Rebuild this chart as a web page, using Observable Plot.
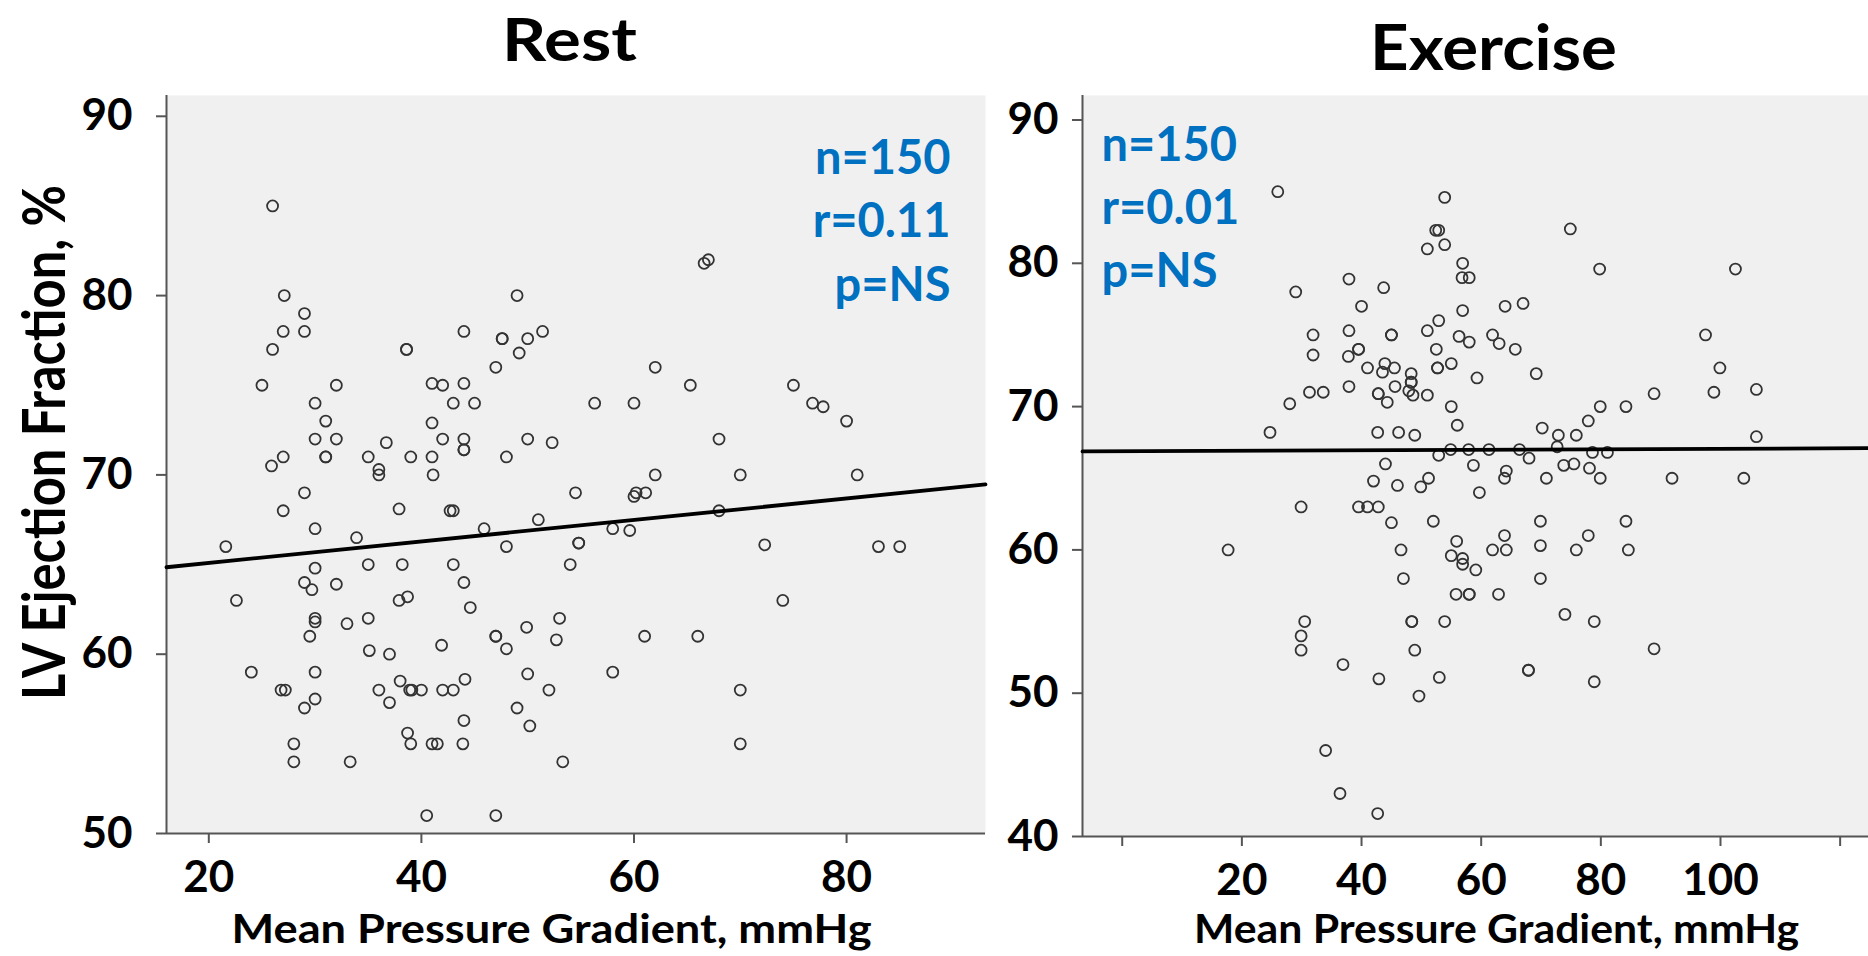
<!DOCTYPE html>
<html><head><meta charset="utf-8">
<script src="https://cdn.jsdelivr.net/npm/d3@7"></script>
<script src="https://cdn.jsdelivr.net/npm/@observablehq/plot@0.6"></script>
<style>
html,body{margin:0;padding:0;background:#fff;}
#wrap{position:relative;width:1868px;height:956px;overflow:hidden;}
#wrap svg{position:absolute;top:0;}
</style></head><body><div id="wrap"></div>
<script>
// ---------- data: Rest panel ----------
const restX = [26,27.1,29,27,29,26,38.6,38.6,44,47.6,47.6,49,50,51.4,49.2,47,25,32,41,42,44,30,43,45,31,41,30,32,36.7,42,44,44,44,50,52.3,27,25.9,31,31,35,36,36,39,41,41.1,48,
29,27,37.9,42.7,43,54.5,30,21.6,33.9,45.9,51,48,54.8,54.8,54,30,35,38.2,43,22.6,29,29.7,32,44,37.9,38.7,44.6,30,30,33,35,29.5,35.1,37,41.9,47,47,48,49.9,53,52.7,24,30,26.8,27.2,30,29,36,37,38,38.9,39.1,40,42,43,44.1,50,52,49,50.2,44,38.7,39,41,41.5,43.9,28,28,33.3,53.3,40.5,47,
66.6,67,62,65.3,75,56.3,60,76.8,77.8,80,68,62,70,81,
60,60.2,61.1,68,58,59.6,72.3,83,85,74,61,66,58,70,70];
const restY = [85,80,79,78,78,77,77,77,78,77.6,77.6,80,77.6,78,76.8,76,75,75,75.1,75,75.1,74,74,74,73,72.9,72,72,71.8,72,72,71.4,71.4,72,71.8,71,70.5,71,71,71,70.3,70,71,71,70,71,
69,68,68.1,68,68,69,67,66,66.5,67,67.5,66,66.2,66.2,65,64.8,65,65,65,63,64,63.6,63.9,64,63,63.2,62.6,62,61.8,61.7,62,61,60.2,60,60.5,61,61,60.3,61.5,62,60.8,59,59,58,58,57.5,57,58,57.3,58.5,58,58,58,58,58,58.6,58.9,58,57,56,56.3,55.6,55,55,55,55,55,54,54,54,51,51,
81.8,82,76,75,75,74,74,74,73.8,73,72,70,70,70,
68.8,69,69,68,67,66.9,66.1,66,66,63,61,61,59,58,55];

// ---------- data: Exercise panel ----------
const exX = [26,29,37.9,43.7,40,31.9,37.9,45,45,31.9,37.8,39.5,39.5,41,43.9,43.5,45.5,48.3,48.3,48.3,47.9,48.6,45.6,37.9,42.8,42.8,44.3,31.3,33.6,28,24.7,42.7,46.2,48.9,44,42,46,49.9,
29.9,39.5,41,42.8,45,17.7,46.6,47,30.5,29.9,29.9,48.4,48.4,48.9,36.9,42.9,49.6,34,36.4,42.7,
53.9,52.4,52.9,51,53.9,74.9,56.9,56.8,58,79.8,102.5,56.9,64,67,52.9,51,56.3,58,61.9,63,65.7,52.5,52.7,52.7,55,59.3,69.2,51,55,56,70.2,72.9,75.9,77.9,79.9,84.2,88.9,97.5,99.9,98.9,106,106,54.9,57.9,61.3,66.4,72.7,52.9,68,78.6,81.1,58.7,64.2,63.9,73.8,75.5,78.1,51.2,70.9,79.9,91.9,103.9,59.7,
52,69.9,84.2,55.9,63.9,77.9,55,56.9,56.9,59.1,61.9,64.2,69.9,75.9,84.6,69.9,55.8,58,58,62.9,74,78.9,53.9,88.9,53,67.9,67.9,78.9];
const exY = [85,78,78.9,78.3,77,75,75.3,75,75,73.6,73.5,74,74,72.7,73,72.4,72.7,72.3,71.7,71.7,71.1,70.8,71.4,71.4,70.9,70.9,70.3,71,71,70.2,68.2,68.2,68.2,68,66,64.8,64.5,64.4,
63,63,63,63,61.9,60,60,58,55,54,53,55,55,53,52,51,49.8,46,43,41.6,
84.6,82.3,82.3,81,81.3,82.4,80,79,79,79.6,79.6,76.7,77,77.2,76,75.3,74.9,74.5,75,74.4,74,74,72.7,72.7,73,72,72.3,70.8,70,68.7,68.5,68,68,69,70,70,70.9,75,72.7,71,71.2,67.9,67,67,67,67,67.2,66.6,66.4,66.8,66.8,65.9,65.5,65,65.9,66,65.7,65,65,65,65,65,64,
62,62,62,60.6,61,61,59.6,59.4,59,58.6,60,60,60.3,60,60,58,56.9,56.9,56.9,56.9,55.5,55,55,53.1,51.1,51.6,51.6,50.8];

// ---------- fitted lines (end points) ----------
const restFitX = [16.02, 93.07];
const restFitY = [64.85, 69.47];
const exFitX = [-6.64, 124.74];
const exFitY = [66.87, 67.1];

// ---------- axes / labels ----------
const restXDomain = [16.02, 93.07];
const restYDomain = [50, 91.16];
const exXDomain = [-6.64, 124.74];
const exYDomain = [40, 91.71];
const restXTicks = [20, 40, 60, 80];
const restYTicks = [50, 60, 70, 80, 90];
const exXTicks = [0, 20, 40, 60, 80, 100, 120];
const exXTickLabels = ["", "20", "40", "60", "80", "100", ""];
const exYTicks = [40, 50, 60, 70, 80, 90];
const restStats = ["n=150", "r=0.11", "p=NS"];
const exStats = ["n=150", "r=0.01", "p=NS"];
const titles = ["Rest", "Exercise"];
const xLabel = "Mean Pressure Gradient, mmHg";
const yLabel = "LV Ejection Fraction, %";

const FONT = "Lato, 'Open Sans', sans-serif";
const AX = "#555";
const BLUE = "#0070C0";

const restPts = restX.map((x, i) => ({x, y: restY[i]}));
const exPts = exX.map((x, i) => ({x, y: exY[i]}));
const restFit = restFitX.map((x, i) => ({x, y: restFitY[i]}));
const exFit = exFitX.map((x, i) => ({x, y: exFitY[i]}));

const T = {text: d => d, fontWeight: "bold", lineAnchor: "middle"};

const p1 = Plot.plot({
  width: 1000, height: 956,
  marginLeft: 166, marginRight: 15, marginTop: 95, marginBottom: 123,
  style: {fontFamily: FONT, fontWeight: "bold", background: "transparent", color: "#000", overflow: "visible"},
  x: {domain: restXDomain},
  y: {domain: restYDomain},
  marks: [
    Plot.frame({fill: "#f0f0f0", stroke: "none"}),
    Plot.ruleX([restXDomain[0]], {stroke: AX, strokeWidth: 2}),
    Plot.ruleY([restYDomain[0]], {stroke: AX, strokeWidth: 2}),
    Plot.axisX({ticks: restXTicks, tickSize: 10, tickPadding: 17, fontSize: 44, fontWeight: "bold", stroke: AX, strokeWidth: 2, label: null}),
    Plot.axisY({ticks: restYTicks, tickSize: 10, tickPadding: 24, fontSize: 44, fontWeight: "bold", stroke: AX, strokeWidth: 2, label: null}),
    Plot.dot(restPts, {x: "x", y: "y", r: 5.5, stroke: "#333", strokeWidth: 1.8, fill: "none"}),
    Plot.line(restFit, {x: "x", y: "y", stroke: "#000", strokeWidth: 3.8}),
    ...restStats.map((t, i) => Plot.text([t], {...T, frameAnchor: "top-right", textAnchor: "end", dx: -35, dy: 63 + 63.5 * i, fontSize: 47, fill: BLUE})),
    Plot.text([titles[0]], {...T, frameAnchor: "top", textAnchor: "middle", dx: -6.5, dy: -54, fontSize: 60, fill: "#000", ariaDescription: "title"}),
    Plot.text([xLabel], {...T, frameAnchor: "bottom", textAnchor: "middle", dx: -24.5, dy: 97, fontSize: 40, fill: "#000", ariaDescription: "xlab"}),
    Plot.text([yLabel], {...T, frameAnchor: "left", textAnchor: "middle", rotate: -90, dx: -121, dy: -22, fontSize: 60, fill: "#000", ariaDescription: "ylab"})
  ]
});

const p2 = Plot.plot({
  width: 868, height: 956,
  marginLeft: 82, marginRight: 0, marginTop: 95, marginBottom: 120,
  style: {fontFamily: FONT, fontWeight: "bold", background: "transparent", color: "#000", overflow: "visible"},
  x: {domain: exXDomain},
  y: {domain: exYDomain},
  marks: [
    Plot.frame({fill: "#f0f0f0", stroke: "none"}),
    Plot.ruleX([exXDomain[0]], {stroke: AX, strokeWidth: 2}),
    Plot.ruleY([exYDomain[0]], {stroke: AX, strokeWidth: 2}),
    Plot.axisX({ticks: exXTicks, tickFormat: d => exXTickLabels[exXTicks.indexOf(d)], tickSize: 10, tickPadding: 17, fontSize: 44, fontWeight: "bold", stroke: AX, strokeWidth: 2, label: null}),
    Plot.axisY({ticks: exYTicks, tickSize: 10, tickPadding: 14, fontSize: 44, fontWeight: "bold", stroke: AX, strokeWidth: 2, label: null}),
    Plot.dot(exPts, {x: "x", y: "y", r: 5.5, stroke: "#333", strokeWidth: 1.8, fill: "none"}),
    Plot.line(exFit, {x: "x", y: "y", stroke: "#000", strokeWidth: 3.8}),
    ...exStats.map((t, i) => Plot.text([t], {...T, frameAnchor: "top-left", textAnchor: "start", dx: 19, dy: 50 + 63.3 * i, fontSize: 47, fill: BLUE})),
    Plot.text([titles[1]], {...T, frameAnchor: "top", textAnchor: "middle", dx: 18, dy: -46, fontSize: 63, fill: "#000", ariaDescription: "title"}),
    Plot.text([xLabel], {...T, frameAnchor: "bottom", textAnchor: "middle", dx: 21, dy: 94, fontSize: 40, fill: "#000", ariaDescription: "xlab"})
  ]
});

p1.style.left = "0px";
p2.style.left = "1000px";
const wrap = document.getElementById("wrap");
wrap.appendChild(p1);
wrap.appendChild(p2);

function fit(svg, label, len) {
  d3.select(svg).selectAll(`g[aria-description="${label}"] text`).attr("textLength", len).attr("lengthAdjust", "spacingAndGlyphs");
}
fit(p1, "title", 135);
fit(p2, "title", 247);
fit(p1, "xlab", 640);
fit(p2, "xlab", 605);
fit(p1, "ylab", 515);
</script>
</body></html>
